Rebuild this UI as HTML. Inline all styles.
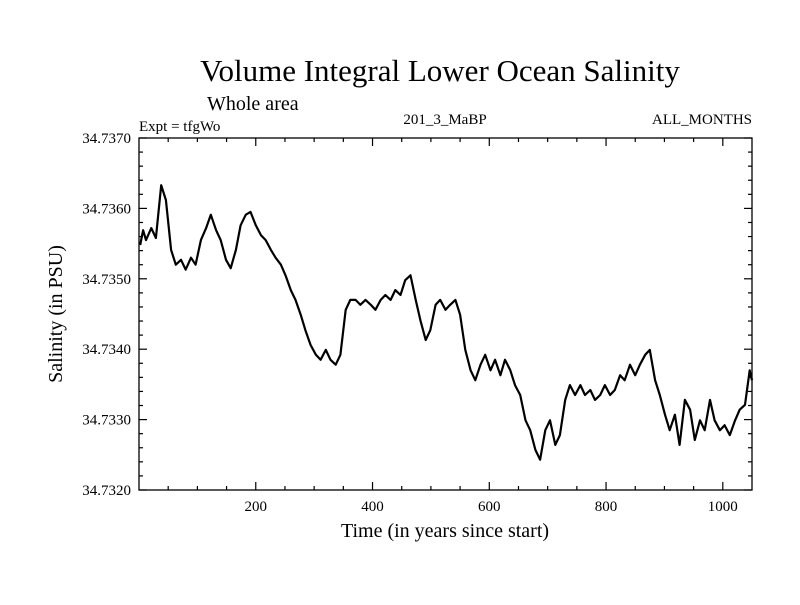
<!DOCTYPE html>
<html><head><meta charset="utf-8"><style>
body{margin:0;background:#fff}
svg text{font-family:"Liberation Serif",serif;fill:#000}
</style></head><body>
<svg width="800" height="600" viewBox="0 0 800 600">
<text x="440" y="81" font-size="31" text-anchor="middle">Volume Integral Lower Ocean Salinity</text>
<text x="207" y="110" font-size="20">Whole area</text>
<text x="139" y="131" font-size="15">Expt = tfgWo</text>
<text x="445" y="124" font-size="15" text-anchor="middle">201_3_MaBP</text>
<text x="752" y="124" font-size="15" text-anchor="end">ALL_MONTHS</text>
<text x="445" y="537" font-size="20" text-anchor="middle">Time (in years since start)</text>
<text transform="translate(62,314) rotate(-90)" font-size="20" text-anchor="middle">Salinity (in PSU)</text>
<g id="axes"></g>
<path id="line" fill="none" stroke="#000" stroke-width="2.2" stroke-linejoin="round"/>
<rect x="139" y="138" width="613" height="352" fill="none" stroke="#000" stroke-width="1.3"/>
</svg>
<script>
const years=[2,7,12,21,29,38,46,55,63,72,80,89,97,106,115,123,132,140,149,157,166,174,183,191,200,209,217,226,234,243,251,260,268,277,285,294,303,311,320,328,337,345,354,362,371,379,388,397,405,414,422,431,439,448,456,465,474,482,491,499,508,516,525,533,542,550,559,568,576,585,593,602,610,619,627,636,644,653,662,670,679,687,696,704,713,721,730,738,747,756,764,773,781,790,798,807,815,824,832,841,850,858,867,875,884,892,901,909,918,926,935,944,952,961,969,978,986,995,1003,1012,1021,1029,1038,1046,1050];
const salinity=[34.73548,34.73569,34.73555,34.73572,34.73558,34.73633,34.73612,34.73541,34.73520,34.73527,34.73513,34.73530,34.73520,34.73555,34.73572,34.73591,34.73569,34.73555,34.73527,34.73515,34.73541,34.73576,34.73591,34.73595,34.73576,34.73562,34.73555,34.73541,34.73530,34.73520,34.73505,34.73484,34.73470,34.73449,34.73427,34.73406,34.73392,34.73385,34.73399,34.73385,34.73378,34.73392,34.73456,34.73470,34.73470,34.73463,34.73470,34.73463,34.73456,34.73470,34.73477,34.73470,34.73484,34.73477,34.73498,34.73505,34.73470,34.73441,34.73413,34.73427,34.73463,34.73470,34.73456,34.73463,34.73470,34.73449,34.73399,34.73370,34.73356,34.73378,34.73392,34.73370,34.73385,34.73363,34.73385,34.73370,34.73349,34.73335,34.73299,34.73285,34.73257,34.73243,34.73285,34.73299,34.73264,34.73278,34.73328,34.73349,34.73335,34.73349,34.73335,34.73342,34.73328,34.73335,34.73349,34.73335,34.73342,34.73363,34.73356,34.73378,34.73363,34.73378,34.73392,34.73399,34.73356,34.73335,34.73307,34.73285,34.73307,34.73264,34.73328,34.73314,34.73271,34.73299,34.73285,34.73328,34.73299,34.73285,34.73292,34.73278,34.73299,34.73314,34.73321,34.73370,34.73356];
const yTickLabels=["34.7320","34.7330","34.7340","34.7350","34.7360","34.7370"];
const xTickLabels=["200","400","600","800","1000"];
const X0=139,X1=752,Y0=490,Y1=138,XMIN=0,XMAX=1050,YMIN=34.732,YMAX=34.737;
const sx=v=>X0+(v-XMIN)/(XMAX-XMIN)*(X1-X0);
const sy=v=>Y0-(v-YMIN)/(YMAX-YMIN)*(Y0-Y1);
const NS="http://www.w3.org/2000/svg";
const g=document.getElementById('axes');
function ln(x1,y1,x2,y2,name){const l=document.createElementNS(NS,'line');l.setAttribute('x1',x1);l.setAttribute('y1',y1);l.setAttribute('x2',x2);l.setAttribute('y2',y2);l.setAttribute('stroke','#000');l.setAttribute('stroke-width','1.2');


g.appendChild(l);}
function tx(x,y,s,anchor,name){const t=document.createElementNS(NS,'text');t.setAttribute('x',x);t.setAttribute('y',y);t.setAttribute('font-size','15');t.setAttribute('text-anchor',anchor);t.textContent=s;


g.appendChild(t);}
for(let v=50;v<XMAX;v+=50){const x=sx(v);const L=(v%200===0)?8:4;ln(x,Y0,x,Y0-L,'x-tick');ln(x,Y1,x,Y1+L,'x-tick-top');}
xTickLabels.forEach(s=>tx(sx(+s),Y0+21,s,'middle','x-tick-label'));
for(let i=0;i<=25;i++){const v=YMIN+i*0.0002;const y=sy(v);const L=(i%5===0)?8:4;ln(X0,y,X0+L,y,'y-tick');ln(X1,y,X1-L,y,'y-tick-right');}
yTickLabels.forEach(s=>tx(X0-8,sy(+s)+5,s,'end','y-tick-label'));
document.getElementById('line').setAttribute('d',years.map((y,i)=>(i?'L':'M')+sx(y).toFixed(1)+','+sy(salinity[i]).toFixed(1)).join(''));
</script>
</body></html>
